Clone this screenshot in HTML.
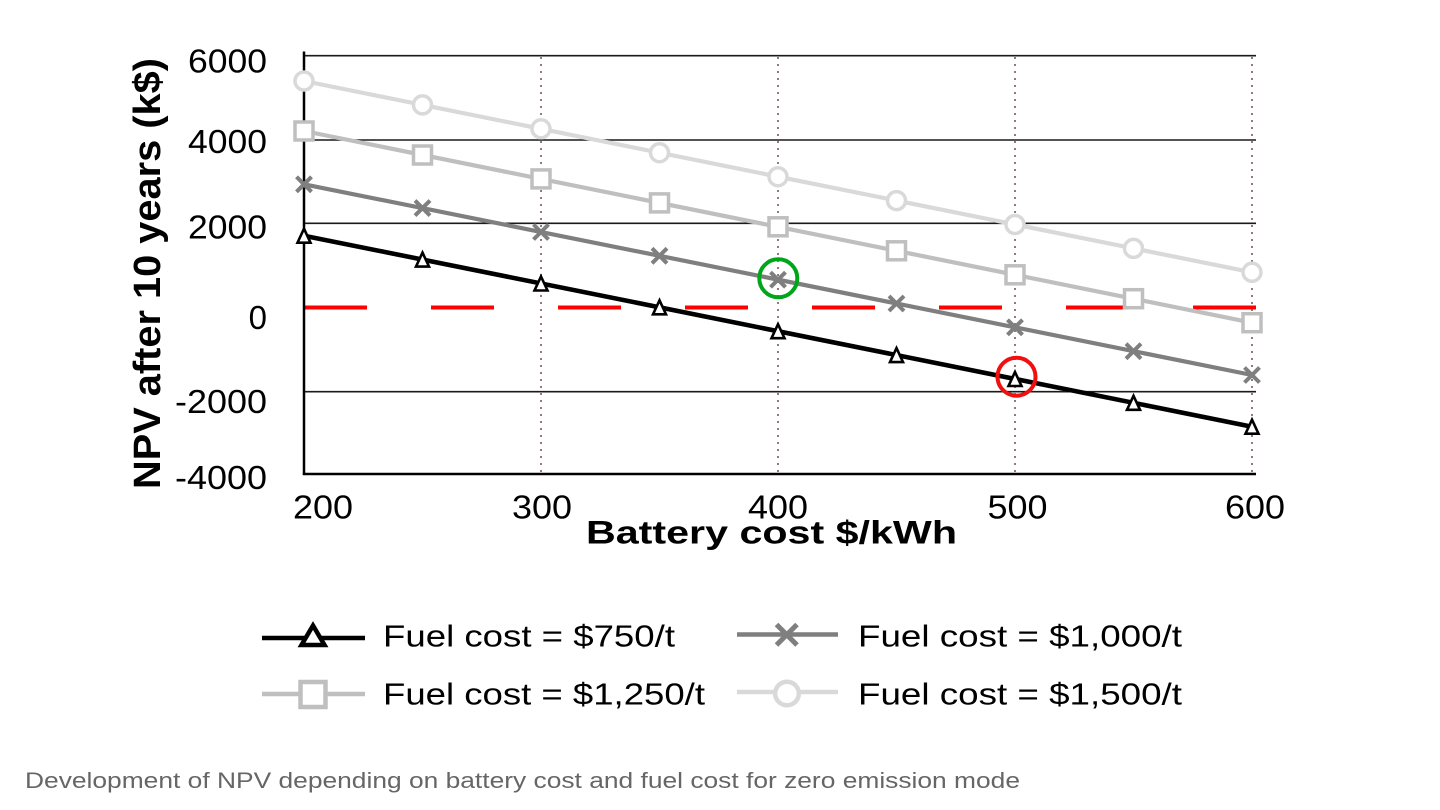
<!DOCTYPE html>
<html>
<head>
<meta charset="utf-8">
<style>
  html, body { margin:0; padding:0; background:#ffffff; }
  body { width:1440px; height:810px; overflow:hidden; }
  svg { display:block; }
  text { font-family: "Liberation Sans", "DejaVu Sans", sans-serif; }
</style>
</head>
<body>
<svg width="1440" height="810" viewBox="0 0 1440 810" xmlns="http://www.w3.org/2000/svg">
  <rect width="1440" height="810" fill="#ffffff"/>

  <!-- horizontal gridlines -->
  <g stroke="#1a1a1a" stroke-width="1.6">
    <line x1="304" y1="55.7" x2="1256" y2="55.7"/>
    <line x1="304" y1="140" x2="1256" y2="140"/>
    <line x1="304" y1="223.3" x2="1256" y2="223.3"/>
    <line x1="304" y1="391.7" x2="1256" y2="391.7"/>
  </g>

  <!-- vertical dotted gridlines -->
  <g stroke="#957878" stroke-width="2" stroke-dasharray="2 5">
    <line x1="541" y1="57" x2="541" y2="473"/>
    <line x1="778" y1="57" x2="778" y2="473"/>
    <line x1="1015" y1="57" x2="1015" y2="473"/>
    <line x1="1252" y1="57" x2="1252" y2="473"/>
  </g>

  <!-- red zero dashed line -->
  <line x1="304" y1="307.5" x2="1256" y2="307.5" stroke="#ff0000" stroke-width="4" stroke-dasharray="63 64"/>

  <!-- axes -->
  <line x1="304" y1="51.5" x2="304" y2="475" stroke="#000" stroke-width="2.5"/>
  <line x1="302.8" y1="474" x2="1256" y2="474" stroke="#000" stroke-width="2.5"/>

  <!-- series lines -->
  <polyline fill="none" stroke="#d9d9d9" stroke-width="4.2" points="304,81 1252,272.3"/>
  <polyline fill="none" stroke="#bfbfbf" stroke-width="4.2" points="304,131 1252,322.7"/>
  <polyline fill="none" stroke="#7f7f7f" stroke-width="4.2" points="304,184.3 1252,375"/>
  <polyline fill="none" stroke="#000000" stroke-width="4.6" points="304,235.7 1252,426.7"/>

  <!-- circle markers (1500) -->
  <g fill="#fff" stroke="#d9d9d9" stroke-width="3.5">
    <circle cx="304" cy="81" r="9"/>
    <circle cx="422.5" cy="104.9" r="9"/>
    <circle cx="541" cy="128.8" r="9"/>
    <circle cx="659.5" cy="152.7" r="9"/>
    <circle cx="778" cy="176.7" r="9"/>
    <circle cx="896.5" cy="200.6" r="9"/>
    <circle cx="1015" cy="224.5" r="9"/>
    <circle cx="1133.5" cy="248.4" r="9"/>
    <circle cx="1252" cy="272.3" r="9"/>
  </g>

  <!-- square markers (1250) -->
  <g fill="#fff" stroke="#bfbfbf" stroke-width="3.5">
    <rect x="295" y="122" width="18" height="18"/>
    <rect x="413.5" y="146" width="18" height="18"/>
    <rect x="532" y="169.9" width="18" height="18"/>
    <rect x="650.5" y="193.9" width="18" height="18"/>
    <rect x="769" y="217.8" width="18" height="18"/>
    <rect x="887.5" y="241.8" width="18" height="18"/>
    <rect x="1006" y="265.8" width="18" height="18"/>
    <rect x="1124.5" y="289.7" width="18" height="18"/>
    <rect x="1243" y="313.7" width="18" height="18"/>
  </g>

  <!-- X markers (1000) -->
  <g stroke="#7f7f7f" stroke-width="4" fill="none">
    <path d="M296.5,176.8 l15,15 M311.5,176.8 l-15,15"/>
    <path d="M415,200.6 l15,15 M430,200.6 l-15,15"/>
    <path d="M533.5,224.5 l15,15 M548.5,224.5 l-15,15"/>
    <path d="M652,248.3 l15,15 M667,248.3 l-15,15"/>
    <path d="M770.5,272.2 l15,15 M785.5,272.2 l-15,15"/>
    <path d="M889,296 l15,15 M904,296 l-15,15"/>
    <path d="M1007.5,319.8 l15,15 M1022.5,319.8 l-15,15"/>
    <path d="M1126,343.7 l15,15 M1141,343.7 l-15,15"/>
    <path d="M1244.5,367.5 l15,15 M1259.5,367.5 l-15,15"/>
  </g>

  <!-- triangle markers (750) -->
  <g fill="#fff" stroke="#000" stroke-width="2.6" stroke-linejoin="miter">
    <path d="M304,228.7 l6.5,14 h-13 z"/>
    <path d="M422.5,252.6 l6.5,14 h-13 z"/>
    <path d="M541,276.5 l6.5,14 h-13 z"/>
    <path d="M659.5,300.3 l6.5,14 h-13 z"/>
    <path d="M778,324.2 l6.5,14 h-13 z"/>
    <path d="M896.5,348.1 l6.5,14 h-13 z"/>
    <path d="M1015,372 l6.5,14 h-13 z"/>
    <path d="M1133.5,395.8 l6.5,14 h-13 z"/>
    <path d="M1252,419.7 l6.5,14 h-13 z"/>
  </g>

  <!-- highlight circles -->
  <circle cx="778.3" cy="278.3" r="19" fill="none" stroke="#00a61a" stroke-width="4"/>
  <circle cx="1016.5" cy="376.7" r="19" fill="none" stroke="#f01010" stroke-width="4"/>

  <!-- y tick labels -->
  <g font-size="33" fill="#000" text-anchor="end">
    <text x="267" y="72.3" textLength="79" lengthAdjust="spacingAndGlyphs">6000</text>
    <text x="267" y="153" textLength="79" lengthAdjust="spacingAndGlyphs">4000</text>
    <text x="267" y="238.3" textLength="79" lengthAdjust="spacingAndGlyphs">2000</text>
    <text x="267" y="329">0</text>
    <text x="267" y="413" textLength="92" lengthAdjust="spacingAndGlyphs">-2000</text>
    <text x="267" y="489" textLength="92" lengthAdjust="spacingAndGlyphs">-4000</text>
  </g>

  <!-- x tick labels -->
  <g font-size="33" fill="#000" text-anchor="middle">
    <text x="323" y="518.5" textLength="60" lengthAdjust="spacingAndGlyphs">200</text>
    <text x="542" y="518.5" textLength="60" lengthAdjust="spacingAndGlyphs">300</text>
    <text x="778" y="518.5" textLength="60" lengthAdjust="spacingAndGlyphs">400</text>
    <text x="1017.5" y="518.5" textLength="60" lengthAdjust="spacingAndGlyphs">500</text>
    <text x="1255" y="518.5" textLength="60" lengthAdjust="spacingAndGlyphs">600</text>
  </g>

  <!-- axis titles -->
  <text x="586" y="543.5" font-size="32" font-weight="bold" fill="#000" textLength="371" lengthAdjust="spacingAndGlyphs">Battery cost $/kWh</text>
  <text transform="translate(160,489) rotate(-90)" x="0" y="0" font-size="38" font-weight="bold" fill="#000" textLength="431" lengthAdjust="spacingAndGlyphs">NPV after 10 years (k$)</text>

  <!-- legend -->
  <line x1="262" y1="638" x2="365" y2="638" stroke="#000" stroke-width="4.5"/>
  <path d="M313,625.5 l11.5,19.5 h-23 z" fill="#fff" stroke="#000" stroke-width="4.5"/>
  <text x="383" y="646.5" font-size="31" fill="#000" textLength="292" lengthAdjust="spacingAndGlyphs">Fuel cost = $750/t</text>

  <line x1="737" y1="634.5" x2="838" y2="634.5" stroke="#7f7f7f" stroke-width="4.5"/>
  <path d="M776.5,624.5 l20.5,20.5 M797,624.5 l-20.5,20.5" stroke="#7f7f7f" stroke-width="5" fill="none"/>
  <text x="858" y="646.5" font-size="31" fill="#000" textLength="324" lengthAdjust="spacingAndGlyphs">Fuel cost = $1,000/t</text>

  <line x1="262" y1="694" x2="365" y2="694" stroke="#bfbfbf" stroke-width="4.5"/>
  <rect x="300.5" y="682" width="25" height="25" fill="#fff" stroke="#bfbfbf" stroke-width="4.5"/>
  <text x="383" y="704.3" font-size="31" fill="#000" textLength="322" lengthAdjust="spacingAndGlyphs">Fuel cost = $1,250/t</text>

  <line x1="737" y1="692" x2="838" y2="692" stroke="#d9d9d9" stroke-width="4.5"/>
  <circle cx="787" cy="693.5" r="11.8" fill="#fff" stroke="#d9d9d9" stroke-width="4.5"/>
  <text x="858" y="704.3" font-size="31" fill="#000" textLength="324" lengthAdjust="spacingAndGlyphs">Fuel cost = $1,500/t</text>

  <!-- caption -->
  <text x="25" y="788" font-size="22" fill="#666666" textLength="995" lengthAdjust="spacingAndGlyphs">Development of NPV depending on battery cost and fuel cost for zero emission mode</text>
</svg>
</body>
</html>
